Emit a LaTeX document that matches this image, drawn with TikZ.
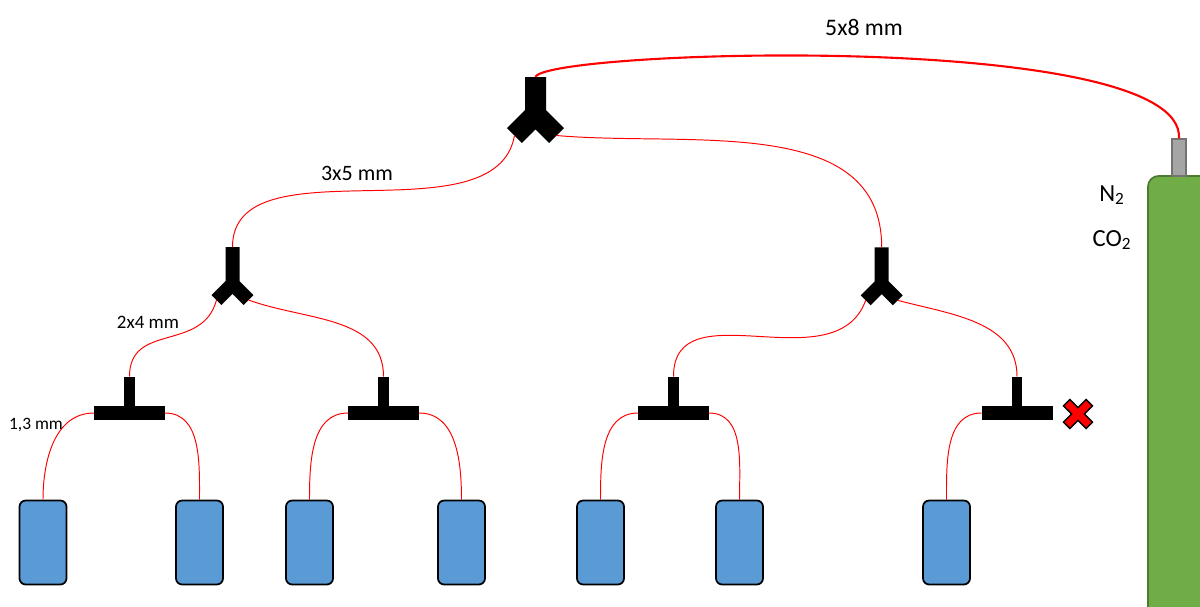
\documentclass[tikz,border=0pt]{standalone}
\usepackage{fontspec}
\setmainfont{Carlito}
\usepackage{tikz}
\usetikzlibrary{positioning}

\definecolor{bottleblue}{HTML}{5B9BD5}
\definecolor{gasgreen}{HTML}{70AD47}
\definecolor{gasgreendark}{HTML}{4E7A30}
\definecolor{valvegray}{HTML}{A5A5A5}

\begin{document}
\begin{tikzpicture}[x=0.02cm,y=-0.02cm,
  bottle/.style={rectangle,rounded corners=3.5pt,draw=black,line width=1pt,
    fill=bottleblue,minimum width=0.94cm,minimum height=1.68cm,inner sep=0pt},
  hose/.style={red,line width=0.55pt},
  mainhose/.style={red,line width=1.2pt},
  lbl/.style={inner sep=0pt,text=black}]
  \useasboundingbox (0,0) rectangle (1200,606);

  % gas cylinder with valve
  \filldraw[fill=gasgreen,draw=gasgreendark,line width=1pt,rounded corners=6pt]
    (1148,176) rectangle (1230,660);
  \node[rectangle,draw=black!55,fill=valvegray,line width=0.8pt,inner sep=0pt,
    minimum width=0.28cm,minimum height=0.74cm] (valve) at (1179,157.5) {};
  \node[lbl,font=\fontsize{14}{16}\selectfont] (n2) at (1112,195) {N\textsubscript{2}};
  \node[lbl,font=\fontsize{14}{16}\selectfont] (co2) at (1112,240) {CO\textsubscript{2}};

  % Y-splitters
  \foreach \n/\x/\y/\w/\p/\d in {0/535.5/77/10.5/37.5/21,
      1/232.5/247/7/37/16, 2/881.7/247.3/7/37/16} {
    \pgfmathsetmacro\c{\w/sqrt(2)}
    \begin{scope}[shift={(\x,\y)}]
      \fill (-\w,0) -- (-\w,{\p+\w-2*\c}) -- ({-\d-\c},{\p+\d-\c})
        -- ({-\d+\c},{\p+\d+\c}) -- (0,{\p+2*\c}) -- ({\d-\c},{\p+\d+\c})
        -- ({\d+\c},{\p+\d-\c}) -- (\w,{\p+\w-2*\c}) -- (\w,0) -- cycle;
      \coordinate (y\n) at (0,0);
      \coordinate (yl\n) at ({-\d},{\p+\d});
      \coordinate (yr\n) at (\d,{\p+\d});
    \end{scope}
  }

  % T-pieces
  \foreach \n/\x in {1/129.5,2/383.5,3/673.5,4/1017} {
    \fill (\x-5.3,376.5) rectangle (\x+5.3,410);
    \fill (\x-35.5,406) rectangle (\x+35.5,420);
    \coordinate (t\n) at (\x,376.5);
    \coordinate (tl\n) at (\x-35.5,413);
    \coordinate (tr\n) at (\x+35.5,413);
  }

  % sample bottles
  \foreach \i/\x in {1/43,2/199.5,3/309.5,4/461.5,5/600.5,6/739.5,7/946.5} {
    \node[bottle] (b\i) at (\x,542.5) {};
  }

  % closed outlet
  \filldraw[fill=red,draw=black,line width=0.8pt,shift={(1078,414)},rotate=45]
    (-4.5,-16) -- (4.5,-16) -- (4.5,-4.5) -- (16,-4.5) -- (16,4.5) -- (4.5,4.5)
    -- (4.5,16) -- (-4.5,16) -- (-4.5,4.5) -- (-16,4.5) -- (-16,-4.5)
    -- (-4.5,-4.5) -- cycle;

  % hoses
  \draw[mainhose] (y0) .. controls +(9.5,-27) and +(6,-109) .. (valve.north);
  \draw[hose] (yl0) to[out=-100,in=90,looseness=0.9] (y1);
  \draw[hose] (yr0) to[out=-5,in=90] (y2);
  \draw[hose] (yl1) to[out=-105,in=90,looseness=1.2] (t1);
  \draw[hose] (yr1) to[out=-20,in=90] (t2);
  \draw[hose] (yl2) to[out=-110,in=90,looseness=1.1] (t3);
  \draw[hose] (yr2) to[out=-15,in=90] (t4);
  \foreach \n/\a/\b in {1/1/2,2/3/4,3/5/6} {
    \draw[hose] (tl\n) to[out=180,in=90] (b\a.north);
    \draw[hose] (tr\n) to[out=0,in=90] (b\b.north);
  }
  \draw[hose] (tl4) to[out=180,in=90] (b7.north);

  % hose sizes
  \node[lbl,font=\fontsize{13.5}{16}\selectfont] (d58) at (864,27) {5x8 mm};
  \node[lbl,font=\fontsize{12.5}{15}\selectfont] (d35) at (357,173) {3x5 mm};
  \node[lbl,font=\fontsize{10.8}{13}\selectfont] (d24) at (148,322) {2x4 mm};
  \node[lbl,font=\fontsize{9.9}{12}\selectfont] (d13) at (36,425) {1,3 mm};
\end{tikzpicture}
\end{document}
